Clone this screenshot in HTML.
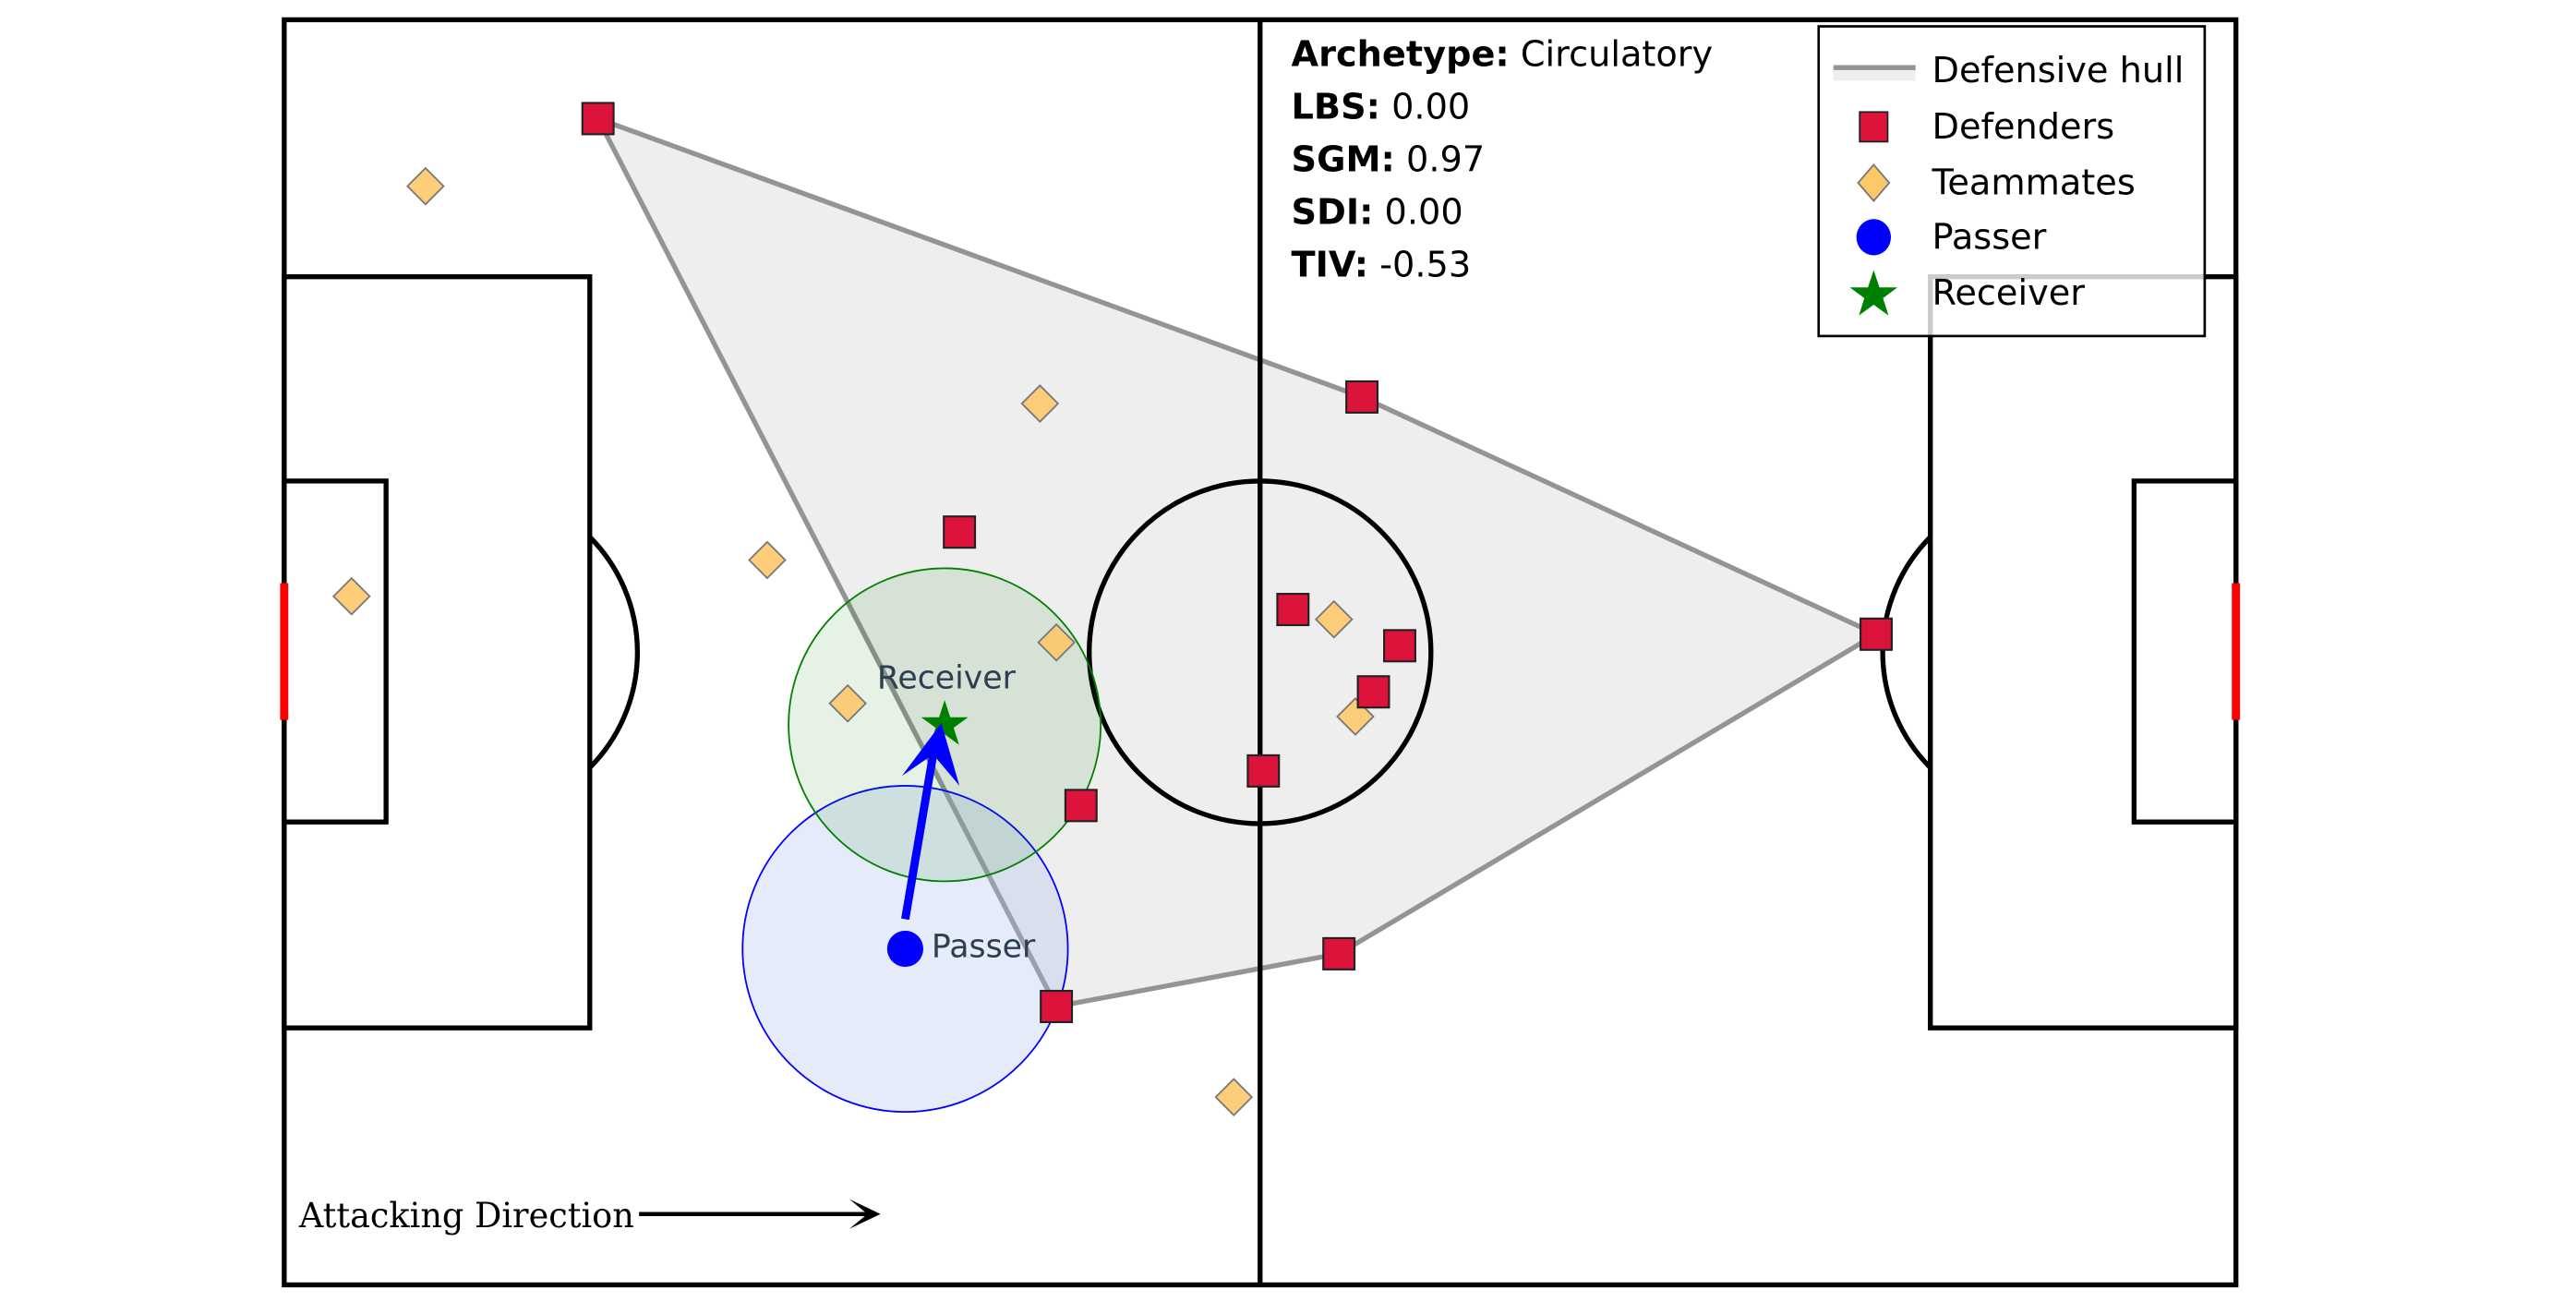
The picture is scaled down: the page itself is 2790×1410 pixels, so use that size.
<!DOCTYPE html>
<html><head><meta charset="utf-8"><style>
html,body{margin:0;padding:0;background:#fff;}
svg{display:block;}
.s{font-family:"DejaVu Sans","Liberation Sans",sans-serif;}
</style></head><body>
<svg width="2790" height="1410" viewBox="0 0 1568 790.4" preserveAspectRatio="none" xmlns="http://www.w3.org/2000/svg">
<rect width="1568" height="791" fill="#fff"/>
<!-- hull -->
<polygon points="364,72 829,241 1142,385 815,579 643,611" fill="#eeeeee" stroke="#949494" stroke-width="3" stroke-linejoin="round"/>
<!-- pitch -->
<g fill="none" stroke="#000" stroke-width="3">
<rect x="173" y="12" width="1188" height="768"/>
<line x1="767" y1="12" x2="767" y2="780"/>
<circle cx="767" cy="396" r="104"/>
<rect x="173" y="168" width="186" height="456"/>
<rect x="173" y="292" width="62" height="207"/>
<path d="M359,326 A99,99 0 0 1 359,466"/>
<rect x="1175" y="168" width="186" height="456"/>
<rect x="1299" y="292" width="62" height="207"/>
<path d="M1175,326 A99,99 0 0 0 1175,466"/>
</g>
<line x1="173" y1="354" x2="173" y2="437" stroke="#f00" stroke-width="5"/>
<line x1="1361" y1="354" x2="1361" y2="437" stroke="#f00" stroke-width="5"/>
<!-- zones -->
<circle cx="551" cy="576" r="99" fill="rgba(170,190,235,0.3)" stroke="#0000ff" stroke-width="1"/>
<circle cx="575" cy="440" r="95" fill="rgba(0,128,0,0.1)" stroke="#008000" stroke-width="1"/>
<!-- teammates -->
<g fill="#fdc86a" fill-opacity="0.9" stroke="#777" stroke-width="1">
<polygon points="259,102 270,113 259,124 248,113"/>
<polygon points="633,234 644,245 633,256 622,245"/>
<polygon points="467,329 478,340 467,351 456,340"/>
<polygon points="214,351 225,362 214,373 203,362"/>
<polygon points="643,379 654,390 643,401 632,390"/>
<polygon points="812,365 823,376 812,387 801,376"/>
<polygon points="516,416 527,427 516,438 505,427"/>
<polygon points="825,424 836,435 825,446 814,435"/>
<polygon points="751,655 762,666 751,677 740,666"/>
</g>
<!-- defenders -->
<g fill="#dc143c" stroke="#222" stroke-width="1.2">
<rect x="354.5" y="62.5" width="19" height="19"/>
<rect x="819.5" y="231.5" width="19" height="19"/>
<rect x="574.5" y="313.5" width="19" height="19"/>
<rect x="777.5" y="360.5" width="19" height="19"/>
<rect x="842.5" y="382.5" width="19" height="19"/>
<rect x="826.5" y="410.5" width="19" height="19"/>
<rect x="759.5" y="458.5" width="19" height="19"/>
<rect x="648.5" y="479.5" width="19" height="19"/>
<rect x="1132.5" y="375.5" width="19" height="19"/>
<rect x="805.5" y="569.5" width="19" height="19"/>
<rect x="633.5" y="601.5" width="19" height="19"/>
</g>
<!-- passer / receiver -->
<circle cx="551" cy="576" r="11" fill="#0000ff"/>
<polygon fill="#008000" points="575,425 578.4,435.4 589.3,435.4 580.5,441.8 583.8,452.2 575,445.8 566.2,452.2 569.5,441.8 560.7,435.4 571.6,435.4"/>
<line x1="551" y1="558" x2="568" y2="458" stroke="#0000ff" stroke-width="5"/>
<polygon fill="#0000ff" points="573,439 584,477 568,458 549,471"/>
<text class="s" x="576" y="418" font-size="19.5" fill="#2c3e50" text-anchor="middle">Receiver</text>
<text class="s" x="567" y="581" font-size="19.5" fill="#2c3e50">Passer</text>
<!-- stats -->
<g class="s" font-size="21.5" fill="#000">
<text x="786" y="40"><tspan font-weight="bold">Archetype:</tspan> Circulatory</text>
<text x="786" y="72"><tspan font-weight="bold">LBS:</tspan> 0.00</text>
<text x="786" y="104"><tspan font-weight="bold">SGM:</tspan> 0.97</text>
<text x="786" y="136"><tspan font-weight="bold">SDI:</tspan> 0.00</text>
<text x="786" y="168"><tspan font-weight="bold">TIV:</tspan> -0.53</text>
</g>
<!-- legend -->
<rect x="1107" y="16" width="235" height="188" fill="#fff" fill-opacity="0.8" stroke="#000" stroke-width="1.5"/>
<rect x="1116" y="41" width="50" height="8" fill="#eeeeee"/>
<line x1="1116" y1="41" x2="1166" y2="41" stroke="#949494" stroke-width="3"/>
<rect x="1132" y="68" width="17" height="18" fill="#dc143c" stroke="#222" stroke-width="1"/>
<polygon points="1140.5,100 1150,111 1140.5,122 1131,111" fill="#fdc86a" stroke="#777" stroke-width="1"/>
<ellipse cx="1140.5" cy="144" rx="10.5" ry="11" fill="#0000ff"/>
<polygon fill="#008000" points="1140.5,164 1144,174.5 1155,174.5 1146.2,181 1149.5,191.5 1140.5,185 1131.5,191.5 1134.8,181 1126,174.5 1137,174.5"/>
<g class="s" font-size="21.5" fill="#000">
<text x="1176" y="50">Defensive hull</text>
<text x="1176" y="84">Defenders</text>
<text x="1176" y="118">Teammates</text>
<text x="1176" y="151">Passer</text>
<text x="1176" y="185">Receiver</text>
</g>
<!-- attacking direction -->
<text x="182" y="745" font-family="'DejaVu Serif','Liberation Serif',serif" font-size="21" fill="#000" textLength="204" lengthAdjust="spacingAndGlyphs">Attacking Direction</text>
<line x1="389" y1="737" x2="532" y2="737" stroke="#000" stroke-width="2.5"/>
<polygon points="517,728 536,737 517,746 528,737" fill="#000"/>
</svg>
</body></html>
